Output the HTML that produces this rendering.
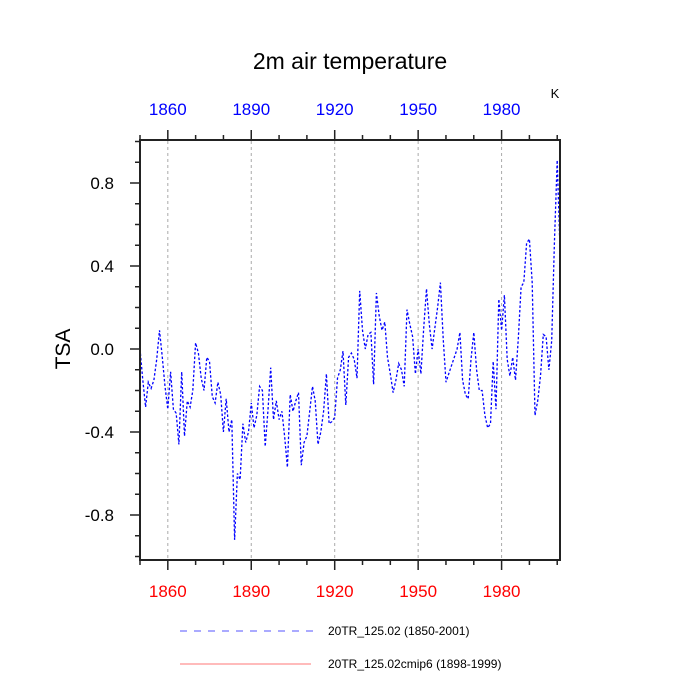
<!DOCTYPE html>
<html><head><meta charset="utf-8"><style>
body{margin:0;background:#fff;}
svg{display:block;font-family:"Liberation Sans",sans-serif;}
</style></head><body>
<svg id="chart" width="700" height="700" viewBox="0 0 700 700">
<text x="350" y="69" text-anchor="middle" font-size="23">2m air temperature</text>
<text x="555" y="98" text-anchor="middle" font-size="13">K</text>
<text transform="translate(70,349) rotate(-90)" text-anchor="middle" font-size="21">TSA</text>
<g id="grid"></g>
<g id="series"></g>
<rect x="140" y="140" width="420" height="420" fill="none" stroke="#222" stroke-width="2"/>
<g id="axes"></g>
<line x1="180" y1="631" x2="315" y2="631" stroke="#55f" stroke-width="1" stroke-dasharray="7,7"/>
<text x="328" y="635" font-size="12">20TR_125.02 (1850-2001)</text>
<line x1="180" y1="664" x2="311" y2="664" stroke="#f77" stroke-width="1"/>
<text x="328" y="668" font-size="12">20TR_125.02cmip6 (1898-1999)</text>
</svg>
<script>
const startYear = 1850;
const tsaValues = [0.0,-0.15,-0.28,-0.16,-0.19,-0.15,-0.05,0.09,-0.04,-0.18,
-0.29,-0.11,-0.29,-0.31,-0.46,-0.11,-0.42,-0.25,-0.28,-0.20,
0.03,-0.02,-0.14,-0.20,-0.04,-0.06,-0.23,-0.26,-0.16,-0.22,
-0.40,-0.24,-0.40,-0.34,-0.92,-0.60,-0.63,-0.36,-0.45,-0.40,
-0.26,-0.38,-0.32,-0.18,-0.20,-0.47,-0.30,-0.09,-0.34,-0.25,
-0.34,-0.30,-0.42,-0.57,-0.22,-0.30,-0.25,-0.21,-0.56,-0.45,
-0.42,-0.30,-0.18,-0.25,-0.46,-0.40,-0.30,-0.12,-0.36,-0.35,
-0.33,-0.14,-0.10,-0.01,-0.27,-0.04,-0.02,-0.05,-0.14,0.28,
0.09,0.0,0.07,0.08,-0.17,0.27,0.16,0.09,0.13,-0.04,
-0.12,-0.21,-0.15,-0.07,-0.10,-0.18,0.19,0.12,0.06,-0.12,
0.0,-0.12,0.10,0.29,0.12,0.0,0.10,0.20,0.32,0.05,
-0.16,-0.12,-0.08,-0.04,0.0,0.08,-0.15,-0.22,-0.24,-0.05,
0.08,-0.10,-0.20,-0.20,-0.32,-0.38,-0.36,-0.06,-0.29,0.24,
0.09,0.26,-0.05,-0.13,-0.04,-0.15,0.05,0.30,0.32,0.51,
0.53,0.32,-0.32,-0.25,-0.13,0.07,0.06,-0.10,0.04,0.51,
0.91,0.48];
const xTickLabels = [1860,1890,1920,1950,1980];
const yTickLabels = [0.8,0.4,0.0,-0.4,-0.8];
const NS='http://www.w3.org/2000/svg';
function xs(yr){return 140+(yr-1850)*420/151;}
function ys(v){return 349-v*207.5;}
function mk(tag,attrs,parent){const e=document.createElementNS(NS,tag);for(const k in attrs)e.setAttribute(k,attrs[k]);parent.appendChild(e);return e;}
const grid=document.getElementById('grid'),axes=document.getElementById('axes'),series=document.getElementById('series');
for(let yr=1850;yr<=2000;yr+=10){
  const x=xs(yr);const major=xTickLabels.includes(yr);const len=major?10:5;
  const b=mk('line',{x1:x,y1:560,x2:x,y2:560+len,stroke:'#222','stroke-width':1.5},axes);
  
  
  const t=mk('line',{x1:x,y1:140,x2:x,y2:140-len,stroke:'#222','stroke-width':1.5},axes);
  
  
}
xTickLabels.forEach(yr=>{
  const x=xs(yr);
  const g=mk('line',{x1:x,y1:141,x2:x,y2:559,stroke:'#aaa','stroke-width':1,'stroke-dasharray':'3,3'},grid);
  
  
  const lb=mk('text',{x:x,y:597,'text-anchor':'middle','font-size':17,fill:'#f00'},axes);lb.textContent=yr;
  
  
  const lt=mk('text',{x:x,y:115,'text-anchor':'middle','font-size':17,fill:'#00f'},axes);lt.textContent=yr;
  
  
});
for(let i=-10;i<=10;i++){
  const v=i/10;const y=ys(v);if(y<139||y>561)continue;
  const len=(Math.abs(i)%4===0&&Math.abs(i)<=8)?10:5;
  const t=mk('line',{x1:140,y1:y,x2:140-len,y2:y,stroke:'#222','stroke-width':1.5},axes);
  
  
}
yTickLabels.forEach(v=>{
  const lb=mk('text',{x:114,y:ys(v)+6,'text-anchor':'end','font-size':17,fill:'#000'},axes);lb.textContent=v.toFixed(1);
  
  
});
const pts=tsaValues.map((v,i)=>xs(startYear+i).toFixed(1)+','+ys(v).toFixed(1)).join(' ');
const pl=mk('polyline',{points:pts,fill:'none',stroke:'#00f','stroke-width':1.3,'stroke-dasharray':'2.5,2'},series);


</script>
</body></html>
